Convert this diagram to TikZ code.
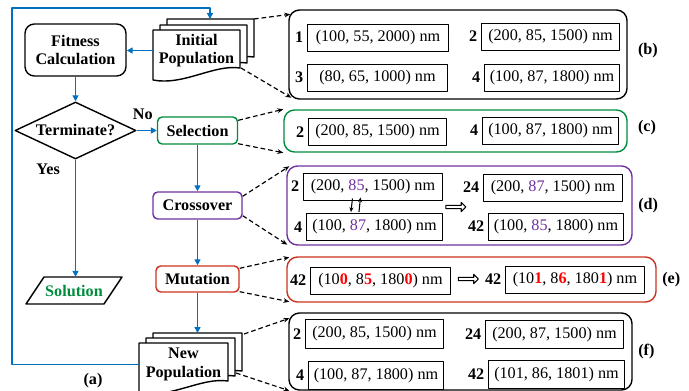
\documentclass[tikz,border=0pt]{standalone}
\usepackage{fontspec}
\setmainfont{Liberation Serif}
\usetikzlibrary{arrows.meta,shapes,positioning}
\usetikzlibrary{calc}
\definecolor{flowblue}{RGB}{0,112,192}
\definecolor{selgreen}{RGB}{0,140,60}
\definecolor{xpurple}{RGB}{112,48,160}
\definecolor{mutred}{RGB}{200,50,30}
\definecolor{digred}{RGB}{255,0,0}
\newcommand{\drawPage}[3]{
    \begin{scope}[shift={(#1,#2)}]
        \filldraw[fill=white,line width=1.2pt] (0,0) -- (#3,0) -- (#3,38)
            .. controls (0.7*#3,34) and (0.35*#3,56) .. (0,50) -- cycle;
    \end{scope}
}
\newcommand{\pur}[1]{\textcolor{xpurple}{#1}}
\newcommand{\mut}[1]{\textcolor{digred}{\textbf{#1}}}
\tikzset{
    procbox/.style={draw,line width=1.2pt,rounded corners=4pt,font=\bfseries,minimum height=0.81cm,align=center},
    doctext/.style={font=\bfseries,align=center,inner sep=0pt,minimum height=1.2cm},
    flow/.style={draw=flowblue,line width=1.6pt,-{Triangle[length=5pt,width=5pt]}},
    conn/.style={line width=1pt,dash pattern=on 4pt off 2.5pt,-{Stealth[length=5pt,width=4pt]}},
    panel/.style={draw,line width=1.2pt,rounded corners=9pt,inner sep=0pt},
    valbox/.style={draw,line width=0.8pt,minimum height=0.81cm,inner xsep=1pt,inner ysep=0pt,anchor=west,minimum width=#1},
    valbox/.default=4.23cm,
    idlabel/.style={font=\bfseries,inner xsep=3pt},
    tag/.style={font=\bfseries},
    hollow/.style={single arrow,draw,line width=0.9pt,minimum height=0.6cm,inner sep=1pt,single arrow head extend=2.5pt},
    swaparrow/.style={line width=0.9pt,-{Stealth[length=4pt,width=3.5pt]}}
}
\begin{document}
\fontsize{13.8}{15.5}\selectfont
\begin{tikzpicture}[x=0.03cm,y=-0.03cm,line join=round]

        \useasboundingbox (0,0) rectangle (689,391);

        % --- Flow chart ---
        \node[procbox,rounded corners=8pt,minimum width=3.03cm,minimum height=1.56cm] (fitness) at (75.5,50) {Fitness\\Calculation};

        \drawPage{167}{19}{87}
        \drawPage{160}{25}{87}
        \drawPage{153}{30}{87}
        \node[doctext,minimum width=2.61cm] (initpop) at (196.5,50.5) {Initial\\Population};

        \node[draw,diamond,line width=1.2pt,font=\bfseries,aspect=2.1,inner sep=0pt,minimum width=3.63cm,minimum height=1.71cm] (term) at (75.5,130.5) {Terminate?};

        % Solution
        \draw[line width=1.2pt] (26,304) -- (44,277) -- (122,277) -- (104,304) -- cycle;
        \node[font=\bfseries,text=selgreen,minimum height=0.81cm,inner sep=0pt] (solution) at (74,290.5) {Solution};

        \node[procbox,draw=selgreen,minimum width=2.4cm] (sel) at (197.5,130.5) {Selection};
        \node[procbox,draw=xpurple,minimum width=2.67cm] (cross) at (197.5,205.5) {Crossover};
        \node[procbox,draw=mutred,minimum width=2.49cm,minimum height=0.78cm] (mut) at (197.5,279) {Mutation};

        \drawPage{153}{333}{89}
        \drawPage{146}{338}{89}
        \drawPage{139}{343}{89}
        \node[doctext,minimum width=2.67cm] (newpop) at (183.5,364.5) {New\\Population};

        \coordinate (newtop) at (197.5,333);
        \coordinate (initback) at (210,19);
        \coordinate (loopcorner) at (12,8);

        % Blue flow
        \draw[flow] (initpop.west) -- (initpop.west -| fitness.east);
        \draw[flow] (fitness.south) -- (term.north);
        \draw[flow] (term.east) -- (sel.west) node[pos=0.3,above=4pt,font=\bfseries] {No};
        \draw[flow] (term.south) -- (term.south |- solution.north) node[pos=0.08,left=8pt,font=\bfseries] {Yes};
        \draw[flow] (sel.south) -- (cross.north);
        \draw[flow] (cross.south) -- (mut.north);
        \draw[flow] (mut.south) -- (newtop);
        \draw[flow] (newpop.west) -| (loopcorner) -| (initback);

        \node[tag] (taga) at (93,381) {(a)};

        % --- (b) initial population ---
        \node[panel,minimum width=10.14cm,minimum height=2.67cm] (pb) at (458,54.5) {};
        \node[valbox] (b1) at (307,37.5) {(100, 55, 2000) nm};
        \node[valbox=4.14cm] (b2) at (481,36.5) {(200, 85, 1500) nm};
        \node[valbox=4.2cm] (b3) at (307,77.5) {(80, 65, 1000) nm};
        \node[valbox=4.05cm] (b4) at (484,77.5) {(100, 87, 1800) nm};
        \node[idlabel,left=0pt of b1] {1};
        \node[idlabel,left=0pt of b2] {2};
        \node[idlabel,left=0pt of b3] {3};
        \node[idlabel,left=0pt of b4] {4};
        \node[tag,right=4pt of pb,yshift=0.12cm] {(b)};

        % --- (c) selection ---
        \node[panel,draw=selgreen,minimum width=10.29cm,minimum height=1.26cm] (pc) at (455.5,131) {};
        \node[valbox=4.14cm] (c2) at (308,132) {(200, 85, 1500) nm};
        \node[valbox=4.08cm] (c4) at (482,130.5) {(100, 87, 1800) nm};
        \node[idlabel,left=0pt of c2] {2};
        \node[idlabel,left=0pt of c4] {4};
        \node[tag,right=4pt of pc,yshift=0.1cm] {(c)};

        % --- (d) crossover ---
        \node[panel,draw=xpurple,minimum width=10.35cm,minimum height=2.37cm] (pd) at (459.5,205.5) {};
        \node[valbox=4.17cm] (d2) at (303,186.5) {(200, \pur{85}, 1500) nm};
        \node[valbox=4.08cm] (d4) at (306,227) {(100, \pur{87}, 1800) nm};
        \node[valbox=4.17cm] (d24) at (483,187.5) {(200, \pur{87}, 1500) nm};
        \node[valbox=4.05cm] (d42) at (488,226.5) {(100, \pur{85}, 1800) nm};
        \node[idlabel,left=0pt of d2] {2};
        \node[idlabel,left=0pt of d4] {4};
        \node[idlabel,left=0pt of d24] {24};
        \node[idlabel,left=0pt of d42] {42};
        \draw[swaparrow] ($(d2.south)+(-20.5,-2)$) -- ($(d4.north)+(-23.5,-1)$);
        \draw[swaparrow] ($(d4.north)+(-15.5,-1)$) -- ($(d2.south)+(-12.5,-3)$);
        \node[hollow] (darr) at (455,207) {};
        \node[tag,right=0pt of pd] {(d)};

        % --- (e) mutation ---
        \node[panel,draw=mutred,minimum width=11.07cm,minimum height=1.35cm] (pe) at (471.5,279.5) {};
        \node[valbox=4.2cm] (e1) at (310,280.5) {(10\mut{0}, 8\mut{5}, 180\mut{0}) nm};
        \node[valbox=4.17cm] (e2) at (505,279.5) {(10\mut{1}, 8\mut{6}, 180\mut{1}) nm};
        \node[idlabel,left=0pt of e1] {42};
        \node[idlabel,left=0pt of e2] {42};
        \node[hollow] (earr) at (467.5,279) {};
        \node[tag,right=0pt of pe] {(e)};

        % --- (f) new population ---
        \node[panel,minimum width=10.29cm,minimum height=2.31cm] (pf) at (460.5,351.5) {};
        \node[valbox=4.14cm,minimum height=0.85cm] (f2) at (305,334) {(200, 85, 1500) nm};
        \node[valbox=4.14cm,minimum height=0.85cm] (f24) at (485,334.5) {(200, 87, 1500) nm};
        \node[valbox=4.05cm,minimum height=0.85cm] (f4) at (308,375.5) {(100, 87, 1800) nm};
        \node[valbox=4.08cm,minimum height=0.85cm] (f42) at (488,374.5) {(101, 86, 1801) nm};
        \node[idlabel,left=0pt of f2] {2};
        \node[idlabel,left=0pt of f24] {24};
        \node[idlabel,left=0pt of f4] {4};
        \node[idlabel,left=0pt of f42] {42};
        \node[tag,right=0pt of pf] {(f)};

        % Dashed links to the panels
        \coordinate (initTR) at (254,19);
        \coordinate (initBR) at (241,68);
        \draw[conn] (initTR) -- ($(pb.north west)+(2,5)$);
        \draw[conn] (initBR) -- ($(pb.south west)+(3,-2)$);
        \draw[conn] ($(sel.north east)+(0,4)$) -- (pc.north west);
        \draw[conn] ($(sel.south east)+(0,-1)$) -- (pc.south west);
        \draw[conn] ($(cross.north east)+(0,5)$) -- ($(pd.north west)+(3,1)$);
        \draw[conn] ($(cross.south east)+(0,-4)$) -- ($(pd.south west)+(1,-1)$);
        \draw[conn] ($(mut.north east)+(0,3)$) -- ($(pe.north west)+(3,1)$);
        \draw[conn] ($(mut.south east)+(0,-1)$) -- ($(pe.south west)+(3,-1)$);
        \coordinate (newTR) at (244,334);
        \coordinate (newBR) at (236,373);
        \draw[conn] (newTR) -- ($(pf.north west)+(1,6)$);
        \draw[conn] (newBR) -- ($(pf.south west)+(1,0)$);

\end{tikzpicture}
\end{document}
